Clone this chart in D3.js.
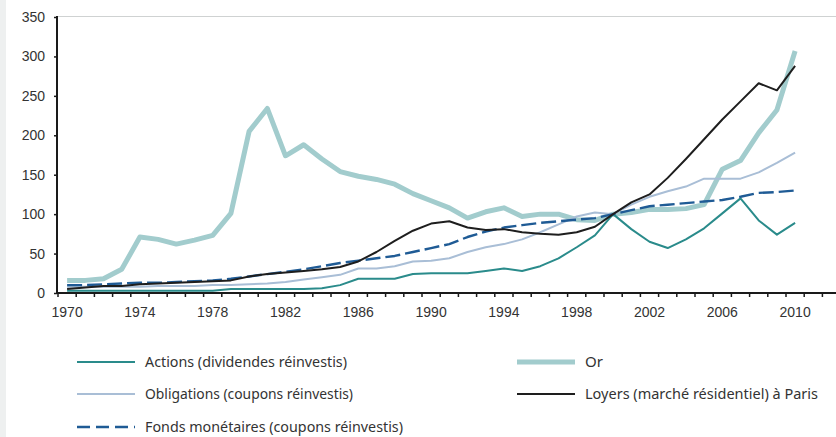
<!DOCTYPE html>
<html><head><meta charset="utf-8">
<script src="https://cdn.jsdelivr.net/npm/d3@7"></script>
<style>
html,body{margin:0;padding:0;background:#fff;}
svg{display:block;}
</style></head>
<body>
<svg id="c" width="836" height="437"></svg>
<script>
const years = d3.range(1970, 2011);
const axisYears = d3.range(1970, 2013);
const labelYears = [1970,1974,1978,1982,1986,1990,1994,1998,2002,2006,2010];
const yTicks = [0,50,100,150,200,250,300,350];

const actions = [3,3,3,3,3,3,3,3,3,5,5,5,5,5,6,10,18,18,18,24,25,25,25,28,31,28,34,44,58,73,100,81,65,57,68,82,101,120,92,74,89];
const or = [16,16,18,30,71,68,62,67,73,101,205,234,174,188,170,154,148,144,138,126,117,108,95,103,108,97,100,100,93,92,100,102,106,106,107,112,157,168,203,232,307];
const obligations = [8,8,8,8,8,9,9,9,10,10,11,12,14,17,20,23,31,31,34,40,41,44,52,58,62,68,77,87,97,102,100,112,122,129,135,145,145,145,153,165,178];
const loyers = [5,7,9,9,11,12,13,14,15,16,21,24,26,28,30,33,40,52,66,79,88,91,83,80,81,77,75,74,77,84,100,115,125,146,170,195,220,243,266,257,288];
const fonds = [10,10,11,12,13,13,14,15,16,18,21,24,27,30,34,38,41,44,47,52,57,62,71,78,83,86,89,91,93,95,100,105,110,112,114,116,118,122,127,128,130];

const seriesNames = ["Actions (dividendes réinvestis)","Or","Obligations (coupons réinvestis)","Loyers (marché résidentiel) à Paris","Fonds monétaires (coupons réinvestis)"];

const svg = d3.select("#c");
svg.append("rect").attr("x",0).attr("y",0).attr("width",6).attr("height",437).attr("fill","#eef0f0");

const x = d3.scaleBand().domain(axisYears).range([58, 58 + 43*18.2]).paddingInner(0).paddingOuter(0);
const y = d3.scaleLinear().domain([0,350]).range([293, 17]);
const cx = d => x(d) + x.bandwidth()/2;

// top frame line
svg.append("line").attr("x1",57).attr("x2",836).attr("y1",16.5).attr("y2",16.5)
  .attr("stroke","#cfd2d2").attr("stroke-width",1.2);

const line = d3.line().x((d,i)=>cx(years[i])).y(d=>y(d));

const styles = [
  {data: or, color:"#a2cccd", w:5, dash:null},
  {data: obligations, color:"#a9bed6", w:2, dash:null},
  {data: actions, color:"#2a8b8b", w:2, dash:null},
  {data: fonds, color:"#1f5b95", w:2.4, dash:"15,5"},
  {data: loyers, color:"#1e1e1e", w:2, dash:null}
];
styles.forEach(s=>{
  svg.append("path").attr("d", line(s.data)).attr("fill","none")
    .attr("stroke", s.color).attr("stroke-width", s.w)
    .attr("stroke-linejoin","round").attr("stroke-linecap","butt")
    .attr("stroke-dasharray", s.dash);
});

// Y axis
const gy = svg.append("g").attr("transform","translate(57,0)")
  .call(d3.axisLeft(y).tickValues(yTicks).tickSize(3).tickPadding(9).tickFormat(d3.format("d")));
gy.select(".domain").attr("d","M0,16V293").attr("stroke","#1a1a1a").attr("stroke-width",2);
gy.selectAll(".tick line").attr("stroke","#1a1a1a").attr("stroke-width",1.5);
gy.selectAll("text").attr("font-family","Liberation Sans, Arial, sans-serif").attr("font-size",14).attr("fill","#333");

// X axis
const gx = svg.append("g").attr("transform","translate(0,293)")
  .call(d3.axisBottom(x).tickValues(labelYears).tickSize(0).tickPadding(14));
gx.select(".domain").remove();
gx.append("line").attr("x1",56).attr("x2",836).attr("y1",0).attr("y2",0).attr("stroke","#1a1a1a").attr("stroke-width",2);
gx.selectAll(".yt").data(axisYears).enter().append("line").attr("class","yt")
  .attr("x1",d=>x(d)).attr("x2",d=>x(d)).attr("y1",0).attr("y2",4)
  .attr("stroke","#1a1a1a").attr("stroke-width",1.5);
gx.selectAll("text").attr("font-family","Liberation Sans, Arial, sans-serif").attr("font-size",14).attr("fill","#333");

// Legend
const legend = [
  {name: seriesNames[0], color:"#2a8b8b", w:2, dash:null, x:77, y:362, len:202},
  {name: seriesNames[2], color:"#a9bed6", w:2, dash:null, x:77, y:394, len:208},
  {name: seriesNames[4], color:"#1f5b95", w:2.4, dash:"13,6", x:77, y:427, len:258},
  {name: seriesNames[1], color:"#a2cccd", w:5, dash:null, x:517, y:362, len:18},
  {name: seriesNames[3], color:"#1e1e1e", w:2, dash:null, x:517, y:394, len:233}
];
const lg = svg.append("g");
legend.forEach(l=>{
  lg.append("line").attr("x1",l.x).attr("x2",l.x+58).attr("y1",l.y).attr("y2",l.y)
    .attr("stroke",l.color).attr("stroke-width",l.w).attr("stroke-dasharray",l.dash);
  lg.append("text").attr("x",l.x+68).attr("y",l.y+5).text(l.name)
    .attr("font-family","'Noto Sans', 'DejaVu Sans', sans-serif").attr("font-size",13.5)
    .attr("fill","#333").attr("textLength",l.len).attr("lengthAdjust","spacingAndGlyphs");
});
</script>
</body></html>
